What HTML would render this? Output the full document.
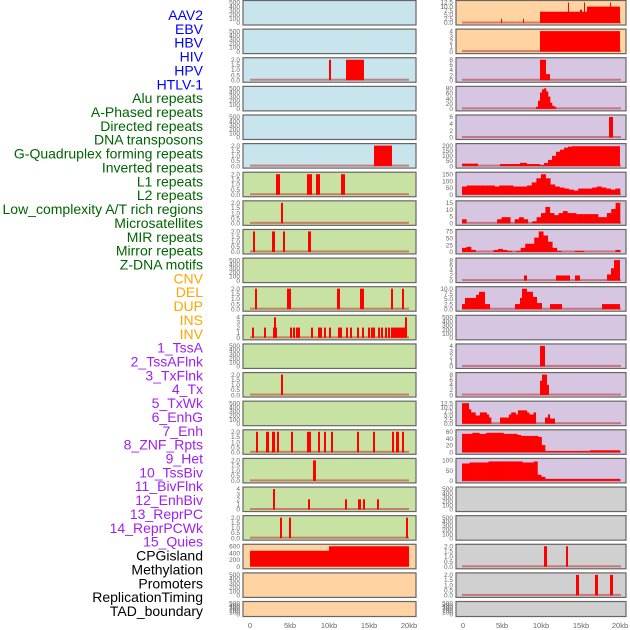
<!DOCTYPE html>
<html><head><meta charset="utf-8"><style>
body{margin:0;background:#fff;width:630px;height:630px;overflow:hidden}
svg{display:block}
</style></head><body>
<svg id="s" width="630" height="630" xmlns="http://www.w3.org/2000/svg" font-family="Liberation Sans, sans-serif"></svg>
<script>
(function(){
var s=document.getElementById('s'),h='';
var labels=[["AAV2","#0000ff"],["EBV","#0000ff"],["HBV","#0000ff"],["HIV","#0000ff"],["HPV","#0000ff"],["HTLV-1","#0000ff"],
["Alu repeats","#006400"],["A-Phased repeats","#006400"],["Directed repeats","#006400"],["DNA transposons","#006400"],["G-Quadruplex forming repeats","#006400"],["Inverted repeats","#006400"],["L1 repeats","#006400"],["L2 repeats","#006400"],["Low_complexity A/T rich regions","#006400"],["Microsatellites","#006400"],["MIR repeats","#006400"],["Mirror repeats","#006400"],["Z-DNA motifs","#006400"],
["CNV","#ffa500"],["DEL","#ffa500"],["DUP","#ffa500"],["INS","#ffa500"],["INV","#ffa500"],
["1_TssA","#a020f0"],["2_TssAFlnk","#a020f0"],["3_TxFlnk","#a020f0"],["4_Tx","#a020f0"],["5_TxWk","#a020f0"],["6_EnhG","#a020f0"],["7_Enh","#a020f0"],["8_ZNF_Rpts","#a020f0"],["9_Het","#a020f0"],["10_TssBiv","#a020f0"],["11_BivFlnk","#a020f0"],["12_EnhBiv","#a020f0"],["13_ReprPC","#a020f0"],["14_ReprPCWk","#a020f0"],["15_Quies","#a020f0"],
["CPGisland","#000"],["Methylation","#000"],["Promoters","#000"],["ReplicationTiming","#000"],["TAD_boundary","#000"]];
labels.forEach(function(l,i){h+='<text x="203" y="'+(20+i*13.86)+'" text-anchor="end" font-size="14" fill="'+l[1]+'">'+l[0]+'</text>';});
var B='#c8e4ec',G='#c8e2a4',O='#ffd3a2',P='#d6c6e2',Y='#d0d0d0';
var T500=['0','100','200','300','400','500'],T2=['0.0','0.5','1.0','1.5','2.0'],T4=['0','1','2','3','4'];
function sp(xs,w,f){return xs.map(function(x){return [x,x+(w||2),f||1];});}
var L=[
[B,T500,[]],[B,T500,[]],[B,T2,[[329,331,1],[346,364,1]],1],[B,T500,[]],[B,T500,[]],
[B,T2,[[374,392,1]],1],
[G,T2,[[276,280,1],[307,312,1],[316,320,1],[341,345,1]],1],
[G,T2,[[281,283,1]],1],
[G,T2,[[253,255,1],[272,275,1],[283,285,1],[308,311,1]],1],
[G,T500,[]],
[G,T2,[[255,257,1],[287,291,1],[337,340,1],[360,364,1],[391,393,1],[402,404,1]],1],
[G,T4,sp([252,264,273,275,290,293,296,298,311,318,320,324,329,338,340,346,350,357,362,368,371,373,378,381,385,388,391,393,395,397,399,401,403],2,0.5).concat([[274,276,1],[405,407,1]]),1],
[G,T500,[]],
[G,T2,[[281,283,1]],1],
[G,T500,[]],
[G,T2,sp([256,266,267,272,273,277,291,307,309,318,324,331,357,373,392,396,397,402],2,1),1],
[G,T2,[[313,316,1]],1],
[G,T4,[[273,275,1],[308,310,0.5],[345,347,0.5],[358,361,0.5],[363,365,0.5],[377,379,0.5]],1],
[G,T2,[[280,282,1],[289,291,1],[406,408,1]],1],
[O,['0','200','400','600'],[[250,329,0.78],[329,409,1]]],
[O,T500,[]],[O,T500,[],0,15]
];
function prof(x0,x1,vals){var r=[],w=(x1-x0)/vals.length;vals.forEach(function(v,i){if(v>0)r.push([x0+i*w,x0+(i+1)*w+0.3,v]);});return r;}
var R=[
[O,['0.0','2.5','5.0','7.5','10.0','12.5'],[[501,502,0.2],[523,524,0.2],[540,587,0.55],[587,620,0.8],[568,569,1],[584,585,1],[610,611,1],[580,582,0.65]],1],
[O,T4,[[540,620,1]],1],
[P,['0','2','4','6','8'],[[540,546,1],[546,550,0.3]],1],
[P,['0','20','40','60','80'],prof(536,556,[0.1,0.4,0.8,0.95,1,0.85,0.6,0.3,0.15,0.1]),1],
[P,['0','2','4','6'],[[609,613,1]],1],
[P,['0','50','100','150','200'],[[462,478,0.12],[500,540,0.1],[520,527,0.16]].concat(prof(540,572,[0.05,0.15,0.3,0.5,0.7,0.8,0.9,0.95])).concat([[572,620,0.97]]),1],
[P,['0','50','100','150'],prof(462,620,[0.4,0.45,0.45,0.45,0.45,0.45,0.45,0.4,0.45,0.45,0.45,0.4,0.4,0.4,0.45,0.6,0.8,1,0.8,0.5,0.4,0.35,0.3,0.25,0.2,0.3,0.3,0.3,0.35,0.4,0.35,0.3,0.25,0.3]),1],
[P,['0','5','10','15'],prof(462,620,[0.2,0,0,0,0,0,0,0,0.2,0.3,0.3,0,0.2,0.3,0.2,0,0.1,0.3,0.5,0.8,0.5,0.4,0.5,0.6,0.5,0.5,0.45,0.45,0.45,0.45,0.45,0.3,0.3,0.5,0.7,1]),1],
[P,['0','25','50','75'],prof(462,620,[0.2,0.25,0.1,0,0,0,0,0.1,0.15,0.1,0.05,0,0.05,0.2,0.4,0.4,0.7,1,0.8,0.5,0.2,0.05,0,0,0,0.05,0.05,0,0,0,0,0,0,0,0.1]),1],
[P,['0','2','4','6','8'],[[524,527,0.25],[556,570,0.25],[575,580,0.25],[607,611,0.3],[611,614,0.6],[614,620,1]],1],
[P,['0.0','2.5','5.0','7.5','10.0'],[[462,465,0.25],[465,476,0.55],[476,479,0.7],[479,485,0.85],[485,490,0.25],[515,520,0.25],[520,522,0.55],[522,527,1],[527,533,0.85],[533,537,0.6],[537,542,0.3],[550,562,0.25],[602,620,0.25]],1],
[P,T500,[]],
[P,['0','1','2','3','4'],[[540,545,1]],1],
[P,['0','2','4','6','8'],[[540,542,0.7],[542,547,1],[547,549,0.5]],1],
[P,['0.0','2.5','5.0','7.5','10.0','12.5'],prof(462,538,[1,1,1,0.7,0.55,0.55,0.4,0.4,0.55,0.55,0.55,0.45,0.3,0,0,0,0,0.3,0.3,0.3,0.3,0.45,0.55,0.55,0.45,0.65,0.65,0.65,0.65,0.55,0.45,0.45,0.55,0]).concat([[545,548,0.3],[548,550,0.45],[550,555,0.25]]),1],
[P,['0','20','40','60'],prof(462,545,[0.9,0.9,0.9,0.95,0.95,0.9,0.9,0.95,0.95,0.95,0.95,0.95,0.9,0.9,0.9,0.9,0.85,0.8,0.8,0.8,0.8,0.8,0.75,0.35]).concat([[545,620,0.06],[590,620,0.1]]),1],
[P,['0','50','100'],prof(462,545,[0.85,0.85,0.9,0.9,0.9,0.9,0.9,0.95,0.95,0.95,0.95,0.95,0.95,0.95,0.95,0.95,0.9,0.9,0.9,0.95,0.3,0.2]).concat([[545,620,0.1]]),1],
[Y,T500,[]],[Y,T500,[]],
[Y,T2,[[544,547,1],[566,568,1]],1],
[Y,T2,[[576,579,1],[595,598,1],[610,613,1]],1],
[Y,T500,[],0,15]
];
function panel(x0,x1,tp,p,d0){
 var H=p[4]||24.5,bg=p[0];
 h+='<rect x="'+x0+'" y="'+tp+'" width="'+(x1-x0)+'" height="'+H+'" fill="'+bg+'" stroke="#666" stroke-width="1.2"/>';
 var y0=tp+H-2,y1=tp+2,t=p[1],n=t.length;
 t.forEach(function(v,k){var y=y0-(y0-y1)*k/(n-1);h+='<text x="'+(x0-3)+'" y="'+(y+2.2)+'" text-anchor="end" font-size="6.5" fill="#666">'+v+'</text>';});
 if(p[3])h+='<rect x="'+d0+'" y="'+(y0-1.5)+'" width="159" height="2" fill="#c03030" opacity="0.55"/>';
 p[2].forEach(function(b){var hh=(y0-y1)*b[2];h+='<rect x="'+b[0]+'" y="'+(y0-hh)+'" width="'+(b[1]-b[0])+'" height="'+hh+'" fill="#ff0000"/>';});
}
for(var r=0;r<22;r++){var tp=0.5+r*28.62;panel(243,416,tp,L[r],250);panel(456,626,tp,R[r],462);}
[['0',250],['5kb',290],['10kb',329],['15kb',369],['20kb',409],['0',463],['5kb',502],['10kb',541],['15kb',581],['20kb',620]].forEach(function(a){h+='<text x="'+a[1]+'" y="628" text-anchor="middle" font-size="7.5" fill="#666">'+a[0]+'</text>';});
s.innerHTML=h;
})();
</script>
</body></html>
